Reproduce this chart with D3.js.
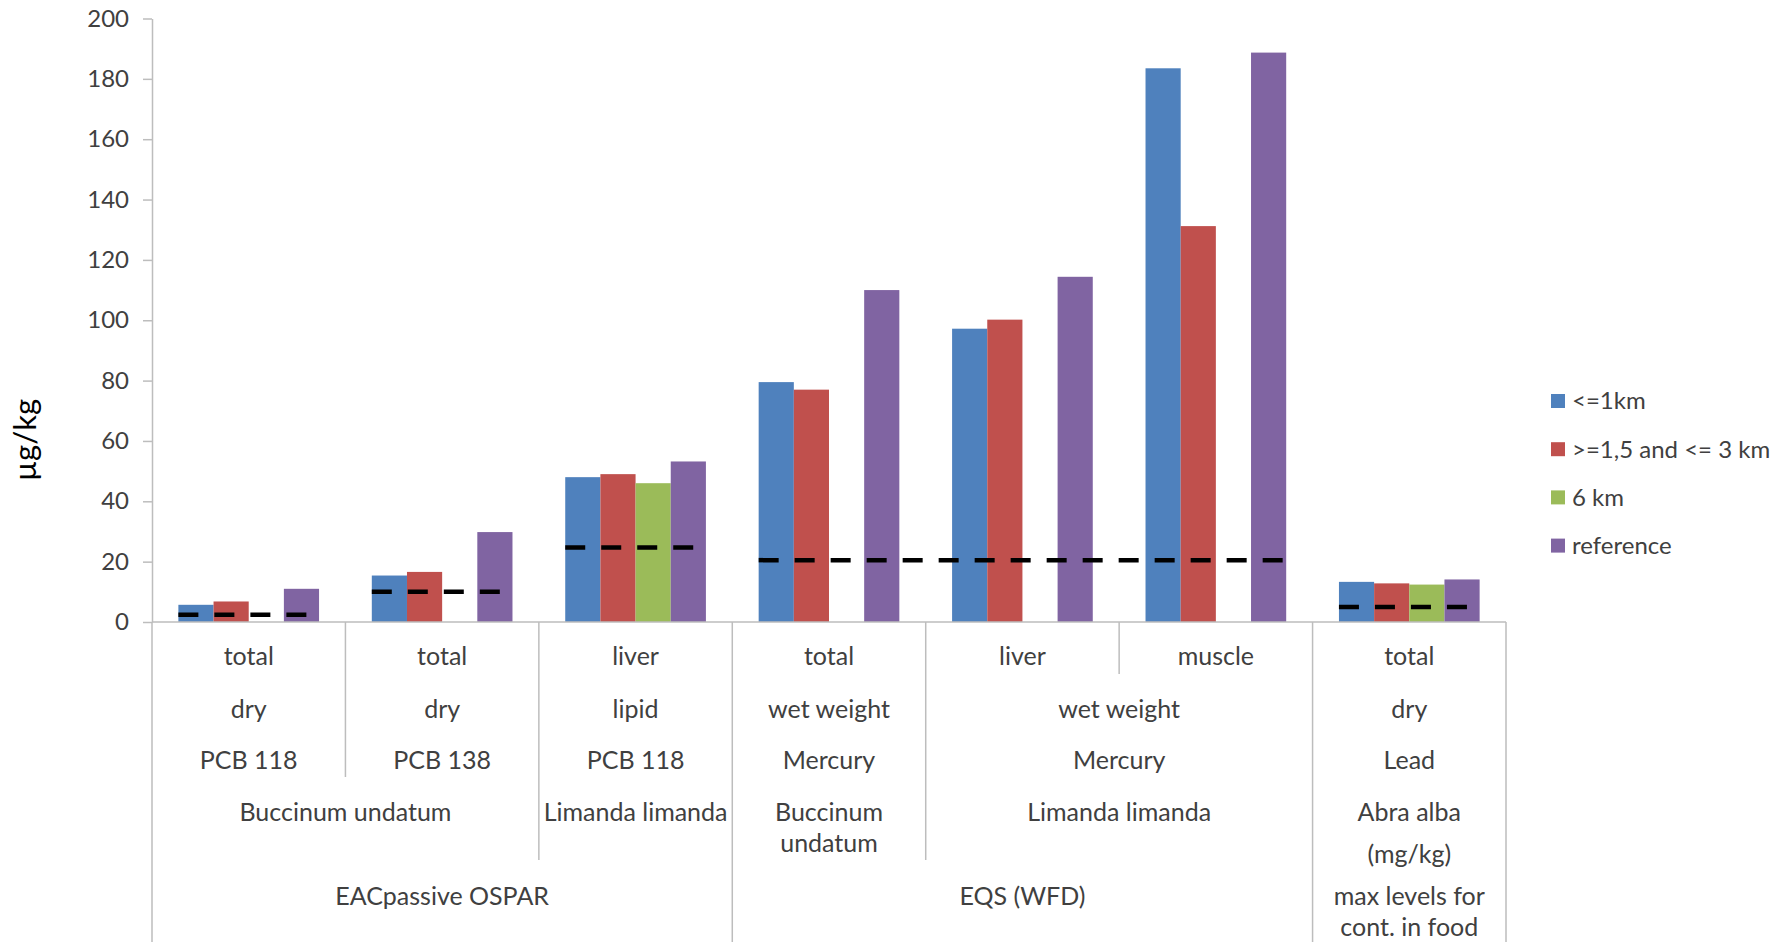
<!DOCTYPE html>
<html>
<head>
<meta charset="utf-8">
<script src="https://cdn.jsdelivr.net/npm/d3@7"></script>
<style>
  html, body { margin: 0; padding: 0; background: #fff; }
  svg { display: block; font-family: Lato, "Open Sans", sans-serif; }
</style>
</head>
<body>
<svg id="chart" width="1792" height="942"></svg>
<script>
// ---- data ----
const categories = ["Bu-PCB118", "Bu-PCB138", "Ll-PCB118", "Bu-Hg", "Ll-liver-Hg", "Ll-muscle-Hg", "Aa-Pb"];
const series = ["<=1km", ">=1,5 and <= 3 km", "6 km", "reference"];

const valuesNear = [5.7, 15.4, 48.0, 79.5, 97.2, 183.5, 13.3];
const valuesMid = [6.8, 16.6, 49.0, 77.0, 100.2, 131.2, 12.8];
const values6km = [null, null, 46.0, null, null, null, 12.4];
const valuesRef = [11.0, 29.8, 53.2, 110.0, 114.4, 188.7, 14.1];

const yTicks = [0, 20, 40, 60, 80, 100, 120, 140, 160, 180, 200];

// threshold levels (dashed), each spanning categories limitFrom..limitTo
const limitValues = [2.4, 10.0, 24.7, 20.5, 5.0];
const limitFrom = [0, 1, 2, 3, 6];
const limitTo = [0, 1, 2, 5, 6];

// multi-level category labels, innermost level first
const tissueLabels = ["total", "total", "liver", "total", "liver", "muscle", "total"];
const tissueSpans = [1, 1, 1, 1, 1, 1, 1];
const basisLabels = ["dry", "dry", "lipid", "wet weight", "wet weight", "dry"];
const basisSpans = [1, 1, 1, 1, 2, 1];
const substanceLabels = ["PCB 118", "PCB 138", "PCB 118", "Mercury", "Mercury", "Lead"];
const substanceSpans = [1, 1, 1, 1, 2, 1];
const speciesLabels = ["Buccinum undatum", "Limanda limanda", "Buccinum\nundatum", "Limanda limanda", "Abra alba\n(mg/kg)"];
const speciesSpans = [2, 1, 1, 2, 1];
const standardLabels = ["EACpassive OSPAR", "EQS (WFD)", "max levels for\ncont. in food"];
const standardSpans = [3, 3, 1];

const colors = ["#4F81BD", "#C0504D", "#9BBB59", "#8064A2"];

// ---- layout ----
const svg = d3.select("#chart");
const plotLeft = 152, plotRight = 1506, plotTop = 18.5, plotBottom = 622;
const axisColor = "#bdbdbd";
const textColor = "#404040";

const x0 = d3.scaleBand().domain(categories).range([plotLeft, plotRight]).padding(0);
const x1 = d3.scaleBand().domain(series).range([0, x0.bandwidth()]).paddingInner(0).paddingOuter(0.75);
const y = d3.scaleLinear().domain([0, 200]).range([plotBottom, plotTop]);
const color = d3.scaleOrdinal().domain(series).range(colors);

svg.append("rect").attr("width", 1792).attr("height", 942).attr("fill", "#fff");

// y axis
const yAxis = svg.append("g")
  .attr("transform", `translate(${plotLeft},0)`)
  .call(d3.axisLeft(y).tickValues(yTicks).tickSize(9).tickSizeOuter(0).tickPadding(14));
yAxis.select(".domain").attr("stroke", axisColor).attr("stroke-width", 1.5);
yAxis.selectAll(".tick line").attr("stroke", axisColor).attr("stroke-width", 1.5);
yAxis.selectAll(".tick text")
  .attr("fill", textColor)
  .style("font-family", "Lato, sans-serif")
  .style("font-size", "24px");

// y axis title
svg.append("text")
  .attr("transform", "translate(36,440) rotate(-90)")
  .attr("text-anchor", "middle")
  .attr("fill", "#000")
  .style("font-size", "31px")
  .style("font-weight", "400")
  .text("µg/kg");

// bars
const seriesValues = [valuesNear, valuesMid, values6km, valuesRef];
const barData = [];
categories.forEach((c, ci) => {
  series.forEach((s, si) => {
    const v = seriesValues[si][ci];
    if (v != null) barData.push({ c, s, v });
  });
});
svg.append("g").selectAll("rect")
  .data(barData)
  .join("rect")
  .attr("x", d => x0(d.c) + x1(d.s))
  .attr("y", d => y(d.v))
  .attr("width", x1.bandwidth())
  .attr("height", d => y(0) - y(d.v))
  .attr("fill", d => color(d.s));

// x axis baseline
svg.append("line")
  .attr("x1", plotLeft).attr("x2", plotRight)
  .attr("y1", plotBottom).attr("y2", plotBottom)
  .attr("stroke", axisColor).attr("stroke-width", 1.5);

// dashed threshold lines
svg.append("g").selectAll("line")
  .data(limitValues.map((v, i) => ({ v, from: limitFrom[i], to: limitTo[i] })))
  .join("line")
  .attr("x1", d => x0(categories[d.from]) + x1(series[0]))
  .attr("x2", d => x0(categories[d.to]) + x1(series[3]) + x1.bandwidth())
  .attr("y1", d => y(d.v))
  .attr("y2", d => y(d.v))
  .attr("stroke", "#000")
  .attr("stroke-width", 4.5)
  .attr("stroke-dasharray", "20,16");

// multi-level category axis
const levels = [
  { labels: tissueLabels, spans: tissueSpans },
  { labels: basisLabels, spans: basisSpans },
  { labels: substanceLabels, spans: substanceSpans },
  { labels: speciesLabels, spans: speciesSpans },
  { labels: standardLabels, spans: standardSpans }
];
const rowY = [656, 709, 760, 812, 896];
const levelBottom = [674, 726, 777, 860, 942];

// boundaries of each level, as category indices
const levelBounds = levels.map(l => {
  const b = new Set([0]);
  let acc = 0;
  l.spans.forEach(s => { acc += s; b.add(acc); });
  return b;
});

const sepG = svg.append("g");
for (let b = 0; b <= categories.length; b++) {
  let deepest = -1;
  for (let L = 0; L < levels.length; L++) {
    if (levelBounds[L].has(b)) deepest = L; else break;
  }
  if (deepest < 0) continue;
  const xb = b < categories.length ? x0(categories[b]) : plotRight;
  sepG.append("line")
    .attr("x1", xb).attr("x2", xb)
    .attr("y1", plotBottom).attr("y2", levelBottom[deepest])
    .attr("stroke", axisColor).attr("stroke-width", 1.5);
}

const labelG = svg.append("g")
  .attr("fill", textColor)
  .style("font-size", "25px")
  .attr("text-anchor", "middle");
levels.forEach((l, L) => {
  let acc = 0;
  l.labels.forEach((lab, i) => {
    const start = acc, end = acc + l.spans[i];
    acc = end;
    const xa = x0(categories[start]);
    const xb = end < categories.length ? x0(categories[end]) : plotRight;
    const cx = (xa + xb) / 2;
    const lines = lab.split("\n");
    const t = labelG.append("text").attr("x", cx).attr("y", rowY[L]).attr("dy", "0.35em");
    lines.forEach((ln, k) => {
      const gap = ln.startsWith("(") ? 42 : 31;
      t.append("tspan")
        .attr("x", cx)
        .attr("y", rowY[L] + (k === 0 ? 0 : gap * k))
        .attr("dy", "0.35em")
        .text(ln);
    });
  });
});

// legend
const legendY0 = 401, legendStep = 48.2;
const legend = svg.append("g").attr("transform", "translate(1551,0)");
series.forEach((s, i) => {
  const ly = legendY0 + i * legendStep;
  legend.append("rect")
    .attr("x", 0).attr("y", ly - 7)
    .attr("width", 14).attr("height", 14)
    .attr("fill", color(s));
  legend.append("text")
    .attr("x", 21).attr("y", ly).attr("dy", "0.35em")
    .attr("fill", textColor)
    .style("font-size", "24px")
    .text(s);
});
</script>
</body>
</html>
